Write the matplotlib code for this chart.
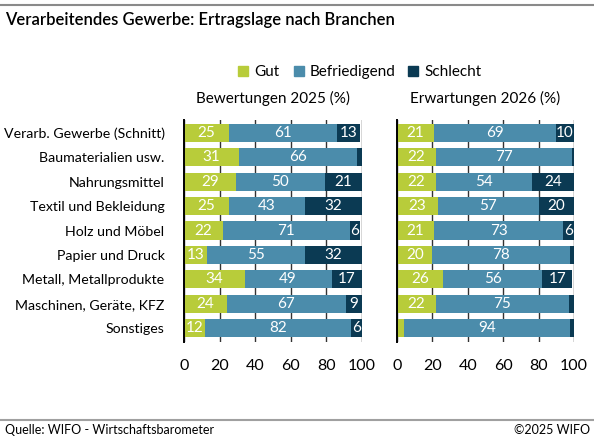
import matplotlib.pyplot as plt
from matplotlib.patches import Patch
from matplotlib.lines import Line2D
import numpy as np

plt.rcParams['font.family'] = ['Lato', 'DejaVu Sans']

branchen = ["Verarb. Gewerbe (Schnitt)", "Baumaterialien usw.", "Nahrungsmittel",
            "Textil und Bekleidung", "Holz und Möbel", "Papier und Druck",
            "Metall, Metallprodukte", "Maschinen, Geräte, KFZ", "Sonstiges"]

gut_2025 = [25, 31, 29, 25, 22, 13, 34, 24, 12]
bef_2025 = [61, 66, 50, 43, 71, 55, 49, 67, 82]
sch_2025 = [13, 3, 21, 32, 6, 32, 17, 9, 6]

gut_2026 = [21, 22, 22, 23, 21, 20, 26, 22, 4]
bef_2026 = [69, 77, 54, 57, 73, 78, 56, 75, 94]
sch_2026 = [10, 1, 24, 20, 6, 2, 17, 3, 2]

serien = ["Gut", "Befriedigend", "Schlecht"]
farben = ["#b8cc3a", "#4b8cab", "#0b3a53"]

W, H = 594, 438
fig = plt.figure(figsize=(W / 100, H / 100), dpi=100)


def px_axes(x0, x1, y0, y1):
    return fig.add_axes([x0 / W, 1 - y1 / H, (x1 - x0) / W, (y1 - y0) / H])


def panel(ax, werte, titel, labels):
    y = np.arange(len(branchen))
    links = np.zeros(len(branchen))
    for vals, name, col in zip(werte, serien, farben):
        vals = np.array(vals, dtype=float)
        ax.barh(y, vals, left=links, height=0.74, color=col, label=name, zorder=2)
        for yi, l, v in zip(y, links, vals):
            if v >= 6:
                ax.text(l + v / 2, yi, f"{v:.0f}", ha="center", va="center",
                        color="white", fontsize=11, zorder=3)
        links += vals
    ax.set_xlim(0, 100)
    ax.set_ylim(8.57, -0.53)
    ax.set_xticks([0, 20, 40, 60, 80, 100])
    ax.tick_params(axis="x", length=0, labelsize=11.5, pad=12)
    ax.tick_params(axis="y", length=0, labelsize=10.2, pad=14)
    ax.set_yticks(y)
    ax.set_yticklabels(branchen if labels else [])
    for s in ["top", "right", "bottom"]:
        ax.spines[s].set_visible(False)
    ax.spines["left"].set_linewidth(1.4)
    ax.spines["left"].set_color("black")
    ax.spines["left"].set_zorder(4)
    ax.grid(axis="x", color="#333333", linewidth=1, zorder=1)
    ax.set_axisbelow(True)
    ax.set_title(titel, fontsize=11, pad=12)


ax1 = px_axes(184, 362, 120, 342)
panel(ax1, [gut_2025, bef_2025, sch_2025], "Bewertungen 2025 (%)", True)
ax2 = px_axes(397, 574, 120, 342)
panel(ax2, [gut_2026, bef_2026, sch_2026], "Erwartungen 2026 (%)", False)

# legend, one entry per position
for name, col, xp in zip(serien, farben, [238, 294, 408]):
    fig.legend(handles=[Patch(color=col, label=name)], loc="center left",
               bbox_to_anchor=(xp / W, 1 - 72 / H), frameon=False,
               handlelength=0.65, handleheight=0.65, handletextpad=0.4,
               fontsize=11, borderpad=0, borderaxespad=0)

fig.text(5 / W, 1 - 20 / H, "Verarbeitendes Gewerbe: Ertragslage nach Branchen",
         fontsize=12, va="center", ha="left", weight="semibold")
fig.text(5 / W, 1 - 430 / H, "Quelle: WIFO - Wirtschaftsbarometer",
         fontsize=9, va="center", ha="left")
fig.text(590 / W, 1 - 430 / H, "©2025 WIFO", fontsize=9, va="center", ha="right")

fig.add_artist(Line2D([0, 1], [1 - 5 / H] * 2, color="#8a8a8a", lw=1.5))
fig.add_artist(Line2D([0, 1], [1 - 420 / H] * 2, color="#a0a0a0", lw=1.5))

fig.savefig("out.png", dpi=100)
